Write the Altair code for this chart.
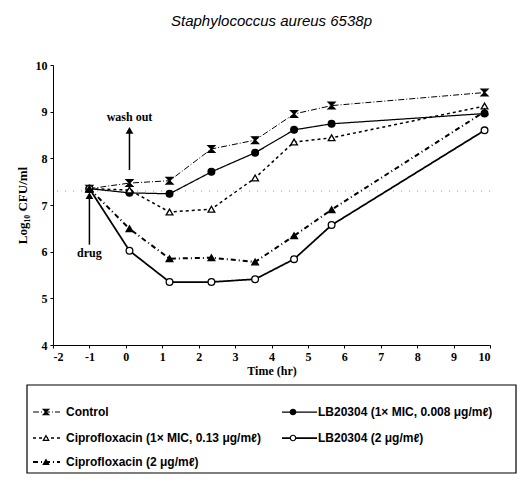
import altair as alt
import pandas as pd

# ---- data ----
times = [-1, 0.1, 1.2, 2.35, 3.55, 4.62, 5.65, 9.85]
series = [
    "Control",
    "LB20304 (1× MIC, 0.008 μg/mℓ)",
    "Ciprofloxacin (1× MIC, 0.13 μg/mℓ)",
    "LB20304 (2 μg/mℓ)",
    "Ciprofloxacin (2 μg/mℓ)",
]
control = [7.35, 7.47, 7.52, 8.20, 8.39, 8.95, 9.13, 9.41]
lb_mic = [7.35, 7.26, 7.24, 7.71, 8.12, 8.61, 8.74, 8.96]
cipro_mic = [7.35, 7.32, 6.85, 6.91, 7.58, 8.35, 8.44, 9.12]
lb_2 = [7.35, 6.02, 5.35, 5.35, 5.41, 5.84, 6.57, 8.60]
cipro_2 = [7.35, 6.49, 5.85, 5.87, 5.78, 6.34, 6.90, 9.00]
values = [control, lb_mic, cipro_mic, lb_2, cipro_2]

x_ticks = list(range(-2, 11))
y_ticks = list(range(4, 11))
baseline = 7.3

annot_text = ["wash out", "drug"]
annot_x = [0.1, -1]
annot_y = [8.88, 5.97]
arrow_from = [7.75, 6.15]
arrow_to = [8.6, 7.2]

# legend layout (column, row)
leg_col = [0, 1, 0, 1, 0]
leg_row = [0, 0, 1, 1, 2]

# ---- styles ----
hourglass = "M-1,-1L1,-1L-1,1L1,1Z"
shapes = [hourglass, "circle", "triangle-up", "circle", "triangle-up"]
fills = ["black", "black", "white", "white", "black"]
dashes = [[6, 2, 1, 2], [1, 0], [3, 3], [1, 0], [5, 3, 1, 3]]
widths = [1.0, 2.0, 1.0, 2.0, 1.0]

W, H = 437, 280

rows = []
for s, vals in zip(series, values):
    for t, v in zip(times, vals):
        rows.append({"series": s, "t": t, "v": v})
df = pd.DataFrame(rows)

font = "Liberation Serif"
xs = alt.Scale(domain=[-2, 10], nice=False)
ys = alt.Scale(domain=[4, 10], nice=False)
shape_sc = alt.Scale(domain=series, range=shapes)
fill_sc = alt.Scale(domain=series, range=fills)
dash_sc = alt.Scale(domain=series, range=dashes)
width_sc = alt.Scale(domain=series, range=widths)

x_axis = alt.Axis(values=x_ticks, title="Time (hr)", grid=False,
                  labelExpr="'' + datum.value", labelOverlap=False,
                  labelFont=font, labelFontWeight="bold", labelFontSize=12,
                  titleFont=font, titleFontWeight="bold", titleFontSize=12,
                  tickSize=3, labelPadding=3, titlePadding=3,
                  domainColor="black", tickColor="black", labelColor="black",
                  titleColor="black")
y_axis = alt.Axis(values=y_ticks, title="Log₁₀ CFU/ml", grid=False, labelOverlap=False,
                  labelFont=font, labelFontWeight="bold", labelFontSize=12,
                  titleFont=font, titleFontWeight="bold", titleFontSize=13,
                  tickSize=3, labelPadding=3, titlePadding=6,
                  domainColor="black", tickColor="black", labelColor="black",
                  titleColor="black")


def X(field):
    return alt.X(field, type="quantitative", scale=xs, axis=x_axis)


def Y(field):
    return alt.Y(field, type="quantitative", scale=ys, axis=y_axis)


base = alt.Chart(df)
lines = base.mark_line(color="black").encode(
    x=X("t"), y=Y("v"),
    detail="series:N",
    strokeDash=alt.StrokeDash("series:N", scale=dash_sc, legend=None),
    strokeWidth=alt.StrokeWidth("series:N", scale=width_sc, legend=None),
)
points = base.mark_point(stroke="black", strokeWidth=1.3, filled=False, opacity=1, size=45).encode(
    x=X("t"), y=Y("v"),
    shape=alt.Shape("series:N", scale=shape_sc, legend=None),
    fill=alt.Fill("series:N", scale=fill_sc, legend=None),
)

ref = alt.Chart(pd.DataFrame({"y": [baseline]})).mark_rule(
    color="#999999", strokeDash=[1, 7], strokeWidth=1
).encode(y=Y("y"))

ann_df = pd.DataFrame({"text": annot_text, "x": annot_x, "y": annot_y,
                       "y0": arrow_from, "y1": arrow_to})
ann_text = alt.Chart(ann_df).mark_text(font=font, fontWeight="bold", fontSize=12,
                                       color="black").encode(
    x=X("x"), y=Y("y"), text="text:N")
arrow_shaft = alt.Chart(ann_df).mark_rule(color="black", strokeWidth=1.5).encode(
    x=X("x"), y=Y("y0"), y2="y1:Q")
arrow_head = alt.Chart(ann_df).mark_point(shape="triangle-up", filled=True, color="black",
                                          size=60, opacity=1).encode(
    x=X("x"), y=Y("y1"))

main = alt.layer(ref, lines, points, arrow_shaft, arrow_head, ann_text)

# ---- legend (drawn below the plot through its own independent scales) ----
box_x = [-26, 463]
box_y = [320, 408]
col_line = [(-20, 7), (229, 264)]
col_mark = [-7, 240]
col_text = [13, 265]
row_y = [347, 373, 397]

leg_rows = []
for s, c, r in zip(series, leg_col, leg_row):
    leg_rows.append({"series": s, "x0": col_line[c][0], "x1": col_line[c][1],
                     "xm": col_mark[c], "xt": col_text[c], "y": row_y[r]})
leg_df = pd.DataFrame(leg_rows)
box_df = pd.DataFrame({"x0": [box_x[0]], "x1": [box_x[1]], "y0": [box_y[0]], "y1": [box_y[1]]})

lxs = alt.Scale(domain=[0, W], nice=False, zero=False)
lys = alt.Scale(domain=[0, H], nice=False, zero=False, reverse=True)

leg_box = alt.Chart(box_df).mark_rect(fill="white", fillOpacity=0, stroke="black",
                                      strokeWidth=1.2).encode(
    x=alt.X("x0:Q", scale=lxs, axis=None), x2="x1:Q",
    y=alt.Y("y0:Q", scale=lys, axis=None), y2="y1:Q")
lb = alt.Chart(leg_df)
leg_lines = lb.mark_rule(color="black").encode(
    x=alt.X("x0:Q", scale=lxs, axis=None), x2="x1:Q",
    y=alt.Y("y:Q", scale=lys, axis=None),
    strokeDash=alt.StrokeDash("series:N", scale=dash_sc, legend=None),
    strokeWidth=alt.StrokeWidth("series:N", scale=width_sc, legend=None),
)
leg_pts = lb.mark_point(stroke="black", strokeWidth=1.2, opacity=1, size=30).encode(
    x=alt.X("xm:Q", scale=lxs, axis=None), y=alt.Y("y:Q", scale=lys, axis=None),
    shape=alt.Shape("series:N", scale=shape_sc, legend=None),
    fill=alt.Fill("series:N", scale=fill_sc, legend=None),
)
leg_txt = lb.mark_text(align="left", font="Liberation Sans", fontWeight="bold", fontSize=12,
                       color="black").encode(
    x=alt.X("xt:Q", scale=lxs, axis=None), y=alt.Y("y:Q", scale=lys, axis=None),
    text="series:N")
legend = alt.layer(leg_box, leg_lines, leg_pts, leg_txt)

chart = alt.layer(main, legend).resolve_scale(
    x="independent", y="independent"
).properties(
    width=W, height=H,
    autosize=alt.AutoSizeParams(type="none"),
    padding={"left": 45, "top": 57, "right": 27, "bottom": 129},
    title=alt.TitleParams("Staphylococcus aureus 6538p", font="Liberation Sans",
                          fontStyle="italic", fontWeight="normal", fontSize=15,
                          frame="group", anchor="middle", offset=30, color="black"),
).configure_view(stroke=None)
chart.save("out.html", embed_options={"renderer": "svg", "actions": False})
